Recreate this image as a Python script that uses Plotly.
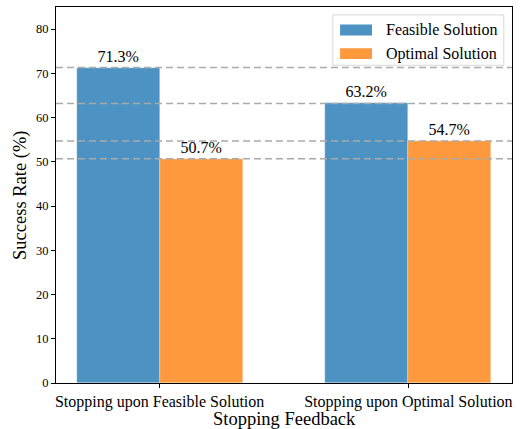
import plotly.graph_objects as go

categories = ["Stopping upon Feasible Solution", "Stopping upon Optimal Solution"]
series_names = ["Feasible Solution", "Optimal Solution"]
feasible = [71.3, 63.2]
optimal = [50.7, 54.7]
y_ticks = [0, 10, 20, 30, 40, 50, 60, 70, 80]

colors = ["#4c92c3", "#ff993e"]
FONT = "Liberation Serif, Times New Roman, serif"
W = 1 / 3
xpos = list(range(len(categories)))

fig = go.Figure()
for i, (name, vals) in enumerate(zip(series_names, [feasible, optimal])):
    fig.add_trace(go.Bar(
        x=xpos, y=vals, name=name, width=W, offset=-W + i * W,
        marker=dict(color=colors[i], line=dict(color="rgba(255,255,255,0.6)", width=0.5)),
        text=[f"{v:.1f}%" for v in vals], textposition="outside",
        textfont=dict(family=FONT, size=16, color="black"),
        cliponaxis=False, showlegend=False, hoverinfo="skip",
    ))

for v in feasible + optimal:
    fig.add_shape(type="line", xref="paper", yref="y", x0=0, x1=1, y0=v, y1=v,
                  line=dict(color="#aaaaaa", width=1.5, dash="7px,4px"), layer="above")

# manual legend (matplotlib style)
lx0, lx1, ly0, ly1 = 0.607, 0.982, 0.845, 0.979
fig.add_shape(type="rect", xref="paper", yref="paper", x0=lx0, x1=lx1, y0=ly0, y1=ly1,
              line=dict(color="#d9d9d9", width=1), fillcolor="rgba(255,255,255,0.85)", layer="above")
rows = [0.939, 0.876]
for i, name in enumerate(series_names):
    fig.add_shape(type="rect", xref="paper", yref="paper", x0=0.623, x1=0.693,
                  y0=rows[i] - 0.0145, y1=rows[i] + 0.0145,
                  line=dict(width=0), fillcolor=colors[i], layer="above")
    fig.add_annotation(xref="paper", yref="paper", x=0.719, y=rows[i], text=name,
                       showarrow=False, xanchor="left", yanchor="middle",
                       font=dict(family=FONT, size=16, color="black"))

# axis titles
fig.add_annotation(xref="paper", yref="paper", x=0.5, y=-0.095, text="Stopping Feedback",
                   showarrow=False, xanchor="center", yanchor="middle",
                   font=dict(family=FONT, size=18.5, color="black"))
fig.add_annotation(xref="paper", yref="paper", x=-0.079, y=0.5, text="Success Rate (%)",
                   showarrow=False, xanchor="center", yanchor="middle", textangle=-90,
                   font=dict(family=FONT, size=18.5, color="black"))

fig.update_layout(
    width=521, height=429,
    margin=dict(l=56, r=9, t=7, b=46),
    plot_bgcolor="white", paper_bgcolor="white",
    font=dict(family=FONT, color="black"),
    bargap=0,
    xaxis=dict(range=[-0.4167, 1.4167], tickmode="array", tickvals=xpos, ticktext=categories,
               tickfont=dict(family=FONT, size=16), ticks="outside", ticklen=4, tickcolor="black",
               showline=True, linecolor="black", linewidth=1.2, mirror=True,
               showgrid=False, zeroline=False, automargin=False),
    yaxis=dict(range=[0, 85], tickmode="array", tickvals=y_ticks,
               tickfont=dict(family=FONT, size=12.5), ticks="outside", ticklen=4, tickcolor="black",
               showline=True, linecolor="black", linewidth=1.2, mirror=True,
               showgrid=False, zeroline=False, automargin=False),
)

fig.write_html("out.html", config={"displayModeBar": False},
               post_script="document.body.style.margin='0';document.body.style.overflow='hidden';")
